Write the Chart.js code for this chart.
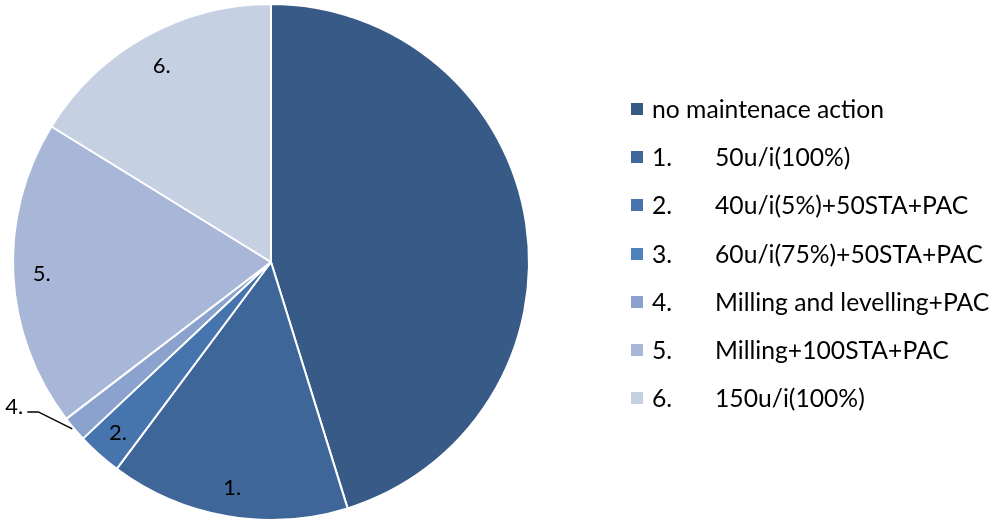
<!DOCTYPE html>
<html>
<head>
<meta charset="utf-8">
<script src="https://cdn.jsdelivr.net/npm/chart.js@4.4.1/dist/chart.umd.min.js"></script>
<style>
  html, body { margin: 0; padding: 0; background: #fff; }
  #wrap { position: relative; width: 989px; height: 524px; }
  #legend { position: absolute; left: 631px; top: 96px; font-family: Lato, "Open Sans", sans-serif; font-size: 24.7px; color: #000; }
  .item { position: absolute; left: 0; height: 26px; white-space: nowrap; }
  .box { position: absolute; left: 0; top: 7px; width: 12px; height: 12px; }
  .num { position: absolute; left: 21px; top: 0; line-height: 26px; }
  .txt { position: absolute; left: 84px; top: 0; line-height: 26px; }
</style>
</head>
<body>
<div id="wrap">
  <canvas id="pieChart" width="989" height="524"></canvas>
  <div id="legend"></div>
</div>
<script>
// Chart data
const sliceNums = ['', '1.', '2.', '3.', '4.', '5.', '6.'];
const sliceNames = ['no maintenace action', '50u/i(100%)', '40u/i(5%)+50STA+PAC', '60u/i(75%)+50STA+PAC',
    'Milling and levelling+PAC', 'Milling+100STA+PAC', '150u/i(100%)'];
const sliceValues = [45.2, 15.0, 2.8, 0, 1.6, 19.2, 16.2];
const sliceColors = ['#375a87', '#3f6699', '#4675ae', '#4f81bd', '#8aa2cd', '#a8b7d7', '#c6d0e3'];

// Build legend next to the pie
const buildLegend = () => {
    const legend = document.querySelector('#legend');
    sliceNames.forEach((name, i) => {
        const item = document.createElement('div');
        item.className = 'item';
        item.style.top = (i * 48.2) + 'px';
        if (sliceNums[i]) {
            item.innerHTML = `<span class="box" style="background:${sliceColors[i]}"></span>` +
                `<span class="num">${sliceNums[i]}</span><span class="txt">${name}</span>`;
        } else {
            item.innerHTML = `<span class="box" style="background:${sliceColors[i]}"></span>` +
                `<span class="num">${name}</span>`;
        }
        legend.appendChild(item);
    });
};

// Draw the "1." .. "6." labels on the slices
const sliceLabels = {
    id: 'sliceLabels',
    afterDatasetsDraw(chart) {
        const ctx = chart.ctx;
        const arcs = chart.getDatasetMeta(0).data;
        ctx.save();
        ctx.font = '22px Lato, "Open Sans", sans-serif';
        ctx.fillStyle = '#000';
        ctx.textBaseline = 'middle';
        arcs.forEach((arc, i) => {
            if (!sliceNums[i] || !sliceValues[i]) return;
            const mid = (arc.startAngle + arc.endAngle) / 2;
            const r = arc.outerRadius;
            if (i === 4) {
                // small slice: label outside with a leader line
                const ox = arc.x + Math.cos(mid) * r;
                const oy = arc.y + Math.sin(mid) * r;
                ctx.strokeStyle = '#000';
                ctx.lineWidth = 1.5;
                ctx.beginPath();
                ctx.moveTo(ox - 2, oy);
                ctx.lineTo(ox - 36, oy - 17);
                ctx.lineTo(ox - 47, oy - 17);
                ctx.stroke();
                ctx.textAlign = 'right';
                ctx.fillText(sliceNums[i], ox - 51, oy - 22);
                return;
            }
            const k = i === 6 ? 0.87 : 0.89;
            ctx.textAlign = 'center';
            ctx.fillText(sliceNums[i], arc.x + Math.cos(mid) * r * k, arc.y + Math.sin(mid) * r * k);
        });
        ctx.restore();
    }
};

const init = () => {
    buildLegend();
    const ctx = document.querySelector('#pieChart');
    new Chart(ctx, {
        type: 'pie',
        data: {
            labels: sliceNames,
            datasets: [{
                data: sliceValues,
                backgroundColor: sliceColors,
                borderColor: '#ffffff',
                borderWidth: 2
            }]
        },
        options: {
            responsive: false,
            animation: false,
            layout: { padding: { left: 0, right: 447, top: 3, bottom: 3 } },
            plugins: {
                legend: { display: false },
                tooltip: { enabled: false }
            }
        },
        plugins: [sliceLabels]
    });
};

if (document.readyState === 'loading') {
    document.addEventListener('DOMContentLoaded', init);
} else {
    init();
}
</script>
</body>
</html>
